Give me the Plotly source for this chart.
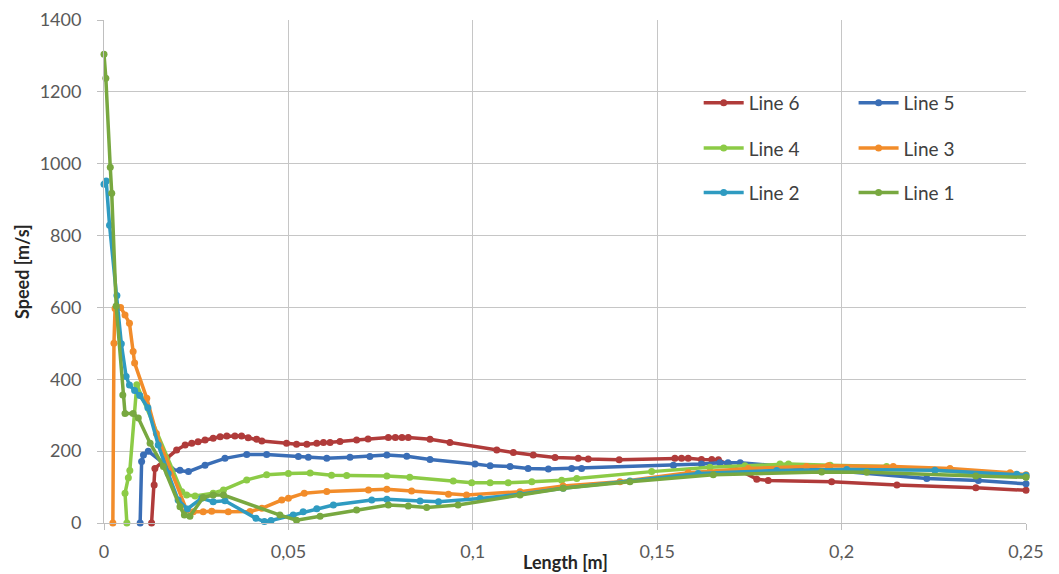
import plotly.graph_objects as go

# ---------------- data ----------------
series_names = ["Line 6", "Line 5", "Line 4", "Line 3", "Line 2", "Line 1"]

line6_x = [0.0129, 0.0136, 0.0138, 0.017, 0.0197, 0.022, 0.0238, 0.0255, 0.0274, 0.0296,
           0.0315, 0.0333, 0.0355, 0.0373, 0.0391, 0.0414, 0.0428, 0.0495, 0.0522, 0.055,
           0.0577, 0.0595, 0.0613, 0.064, 0.0685, 0.0716, 0.0771, 0.079, 0.0808, 0.0825,
           0.0884, 0.0938, 0.1065, 0.111, 0.1164, 0.1223, 0.1286, 0.1313, 0.1397, 0.1548,
           0.1566, 0.1584, 0.162, 0.1648, 0.1666, 0.177, 0.1801, 0.1973, 0.215, 0.2364, 0.25]
line6_y = [0, 106, 152, 180, 203, 217, 222, 226, 231, 236,
           240, 242, 242, 242, 237, 233, 228, 222, 219, 219,
           222, 224, 224, 227, 231, 234, 238, 238, 238, 238,
           233, 224, 203, 196, 189, 182, 180, 178, 176, 180,
           180, 180, 177, 177, 176, 122, 118, 115, 106, 98, 91]

line5_x = [0.0098, 0.0102, 0.0107, 0.012, 0.0183, 0.0206, 0.0229, 0.0274, 0.0328, 0.0387,
           0.0441, 0.0527, 0.0554, 0.0604, 0.0667, 0.0721, 0.0767, 0.0821, 0.0884, 0.1006,
           0.1047, 0.1101, 0.115, 0.1205, 0.1268, 0.1295, 0.1544, 0.162, 0.167, 0.1692,
           0.1725, 0.2231, 0.2371, 0.25]
line5_y = [0, 171, 189, 200, 149, 147, 143, 161, 180, 191,
           191, 185, 183, 180, 183, 185, 189, 186, 177, 164,
           159, 157, 152, 150, 152, 152, 161, 164, 168, 168,
           168, 124, 118, 109]

line4_x = [0.0062, 0.0057, 0.0066, 0.007, 0.0089, 0.0211, 0.0224, 0.0247, 0.0296, 0.0324,
           0.0387, 0.0441, 0.05, 0.0559, 0.0617, 0.0658, 0.0767, 0.0829, 0.0947, 0.0997,
           0.1047, 0.1096, 0.116, 0.1241, 0.1282, 0.1485, 0.1643, 0.1738, 0.1833, 0.1856,
           0.1969, 0.2122, 0.2364, 0.25]
line4_y = [0, 83, 126, 146, 385, 87, 78, 75, 83, 92,
           120, 134, 138, 139, 133, 132, 131, 127, 117, 112,
           112, 112, 115, 119, 124, 143, 155, 159, 164, 164,
           161, 157, 138, 129]

line3_x = [0.0024, 0.0027, 0.003, 0.0045, 0.0057, 0.0069, 0.0079, 0.0083, 0.0116, 0.0142,
           0.0224, 0.0242, 0.0269, 0.0292, 0.0337, 0.0396, 0.0428, 0.0482, 0.05, 0.0543,
           0.0604, 0.0717, 0.0767, 0.0834, 0.0934, 0.0983, 0.1128, 0.1245, 0.1399, 0.1584,
           0.1747, 0.1905, 0.1964, 0.214, 0.2294, 0.2457, 0.25]
line3_y = [0, 500, 597, 600, 579, 556, 477, 445, 347, 249,
           36, 31, 31, 33, 31, 32, 41, 64, 69, 83,
           88, 92, 94, 89, 80, 78, 87, 103, 115, 140,
           152, 157, 159, 157, 152, 140, 134]

line2_x = [0, 0.0006, 0.0015, 0.0035, 0.0047, 0.006, 0.0069, 0.0083, 0.0097, 0.0119,
           0.0147, 0.0174, 0.0201, 0.0226, 0.0265, 0.0296, 0.0328, 0.0412, 0.0435, 0.0453,
           0.0513, 0.054, 0.0577, 0.0622, 0.0726, 0.0767, 0.0857, 0.0907, 0.102, 0.1128,
           0.1245, 0.1426, 0.1611, 0.1824, 0.2014, 0.2253, 0.2475, 0.25]
line2_y = [943, 952, 829, 633, 499, 408, 384, 369, 355, 321,
           217, 138, 64, 39, 69, 59, 62, 13, 4, 7,
           22, 31, 40, 50, 64, 66, 61, 59, 68, 80,
           97, 117, 138, 146, 149, 147, 136, 133]

line1_x = [0, 0.0005, 0.0017, 0.0021, 0.0033, 0.0051, 0.0057, 0.0079, 0.0093, 0.0125,
           0.0161, 0.0206, 0.0218, 0.0233, 0.0269, 0.0296, 0.0324, 0.0477, 0.0522, 0.0586,
           0.0685, 0.0771, 0.0825, 0.0875, 0.096, 0.1128, 0.1245, 0.1426, 0.1652, 0.1946,
           0.2068, 0.2364, 0.25]
line1_y = [1305, 1238, 990, 918, 604, 356, 305, 305, 292, 222,
           157, 45, 22, 19, 71, 78, 78, 22, 8, 19,
           36, 50, 47, 43, 50, 78, 97, 115, 134, 142,
           141, 131, 127]

x_tickvals = [0, 0.05, 0.1, 0.15, 0.2, 0.25]
x_ticktext = ["0", "0,05", "0,1", "0,15", "0,2", "0,25"]
y_tickvals = [0, 200, 400, 600, 800, 1000, 1200, 1400]

colors = ["#B03B3A", "#3A6EB6", "#8CCB46", "#F28C2A", "#2F9BC1", "#78A840"]
xs = [line6_x, line5_x, line4_x, line3_x, line2_x, line1_x]
ys = [line6_y, line5_y, line4_y, line3_y, line2_y, line1_y]

# legend placement (paper coords): columns / rows
leg_cols = [0.645, 0.813]
leg_rows = [0.835, 0.745, 0.657]

fig = go.Figure()
legend_ids = ["legend", "legend2", "legend3", "legend4", "legend5", "legend6"]
for i, (name, x, y, c) in enumerate(zip(series_names, xs, ys, colors)):
    fig.add_trace(go.Scatter(
        x=x, y=y, name=name, mode="lines+markers",
        line=dict(color=c, width=3.5),
        marker=dict(color=c, size=7),
        cliponaxis=False,
        legend=legend_ids[i],
    ))

font_family = "Lato, 'Open Sans', sans-serif"
legend_layout = {}
for i, lid in enumerate(legend_ids):
    legend_layout[lid] = dict(
        x=leg_cols[i % 2], y=leg_rows[i // 2], xref="paper", yref="paper",
        xanchor="left", yanchor="middle",
        bgcolor="rgba(0,0,0,0)", borderwidth=0,
        font=dict(family=font_family, size=19, color="#404040"),
        itemwidth=40,
    )

# the page body adds an 8px offset, so the figure is 8px smaller than the window
fig.update_layout(
    width=1051, height=566,
    margin=dict(l=96, r=33, t=12, b=51, autoexpand=False),
    paper_bgcolor="white", plot_bgcolor="white",
    showlegend=True,
    font=dict(family=font_family, color="#595959"),
    **legend_layout,
)

fig.update_xaxes(
    range=[0, 0.25], tickvals=x_tickvals, ticktext=x_ticktext,
    showgrid=True, gridcolor="#C6C6C6", gridwidth=1,
    showline=True, linecolor="#BFBFBF", linewidth=1,
    ticks="outside", ticklen=6, tickcolor="#BFBFBF",
    tickfont=dict(size=18, color="#595959", family=font_family),
    ticklabelstandoff=6, zeroline=False, automargin=False,
)
fig.update_yaxes(
    range=[0, 1400], tickvals=y_tickvals,
    showgrid=True, gridcolor="#C6C6C6", gridwidth=1,
    showline=True, linecolor="#BFBFBF", linewidth=1,
    ticks="outside", ticklen=6, tickcolor="#BFBFBF",
    tickfont=dict(size=18, color="#595959", family=font_family),
    ticklabelstandoff=12, zeroline=False, automargin=False,
)

# white area behind the legend (hides gridlines there)
fig.add_shape(type="rect", xref="paper", yref="paper",
              x0=(680 - 104) / 922, x1=(1000 - 104) / 922,
              y0=(523 - 222) / 503, y1=(523 - 80) / 503,
              fillcolor="white", line=dict(width=0), layer="between")

fig.add_annotation(text="<b>Length [m]</b>", xref="paper", yref="paper",
                   x=0.5, y=0, yshift=-39, showarrow=False,
                   xanchor="center", yanchor="middle",
                   font=dict(size=18, color="#262626", family=font_family))
fig.add_annotation(text="<b>Speed [m/s]</b>", xref="paper", yref="paper",
                   x=(22 - 104) / 922, y=(523 - 272) / 503, showarrow=False,
                   textangle=-90, xanchor="center", yanchor="middle",
                   font=dict(size=18, color="#262626", family=font_family))

fig.write_html("out.html")
